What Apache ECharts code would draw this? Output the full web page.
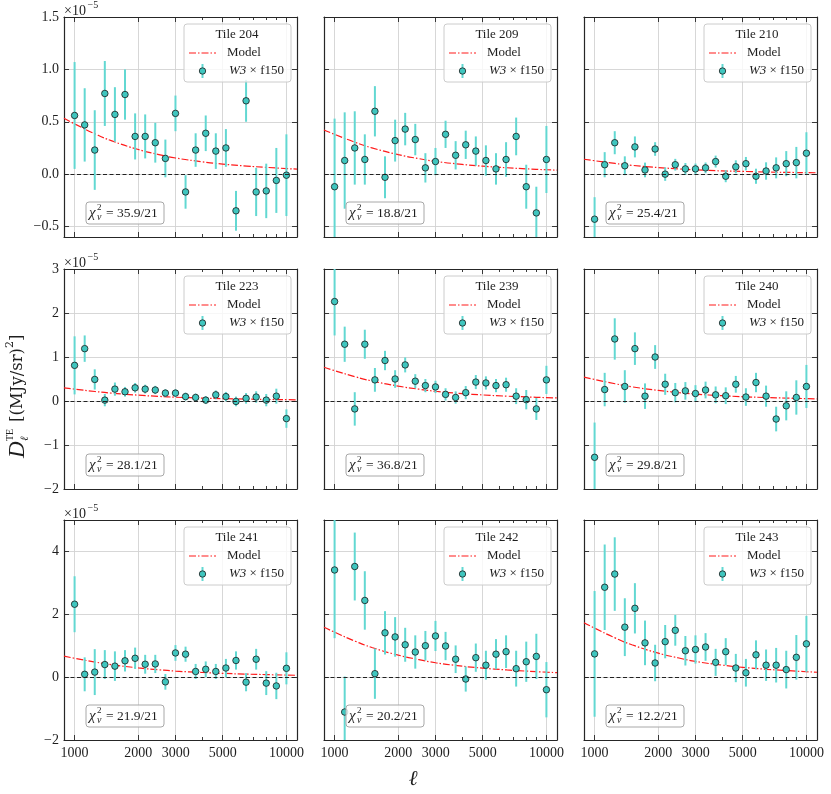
<!DOCTYPE html>
<html>
<head>
<meta charset="utf-8">
<script src="https://cdn.jsdelivr.net/npm/echarts@6/dist/echarts.min.js"></script>
<style>
  html, body { margin: 0; padding: 0; background: #fff; }
  #chart { width: 831px; height: 794px; }
</style>
</head>
<body>
<div id="chart"></div>
<script>
// multipole bin centres (log spaced between 1000 and 10000)
const ell = [1000, 1116, 1245, 1389, 1550, 1730, 1931, 2154, 2404, 2683, 2994,
             3341, 3728, 4160, 4642, 5180, 5780, 6450, 7197, 8032, 8963, 10000];
const modelEll = [891, 1000, 1250, 1500, 2000, 2500, 3000, 4000, 5000, 6500, 8000, 10000, 11220];

const tiles = ['204', '209', '210', '223', '239', '240', '241', '242', '243'];
const chi2 = ['35.9/21', '18.8/21', '25.4/21', '28.1/21', '36.8/21', '29.8/21', '21.9/21', '20.2/21', '12.2/21'];

// D_ell^TE, units of 1e-5 (MJy/sr)^2
const d204 = [0.56, 0.47, 0.23, 0.77, 0.57, 0.76, 0.36, 0.36, 0.30, 0.15, 0.58, -0.17, 0.23, 0.39, 0.22, 0.25, -0.35, 0.70, -0.17, -0.16, -0.06, -0.01];
const e204 = [0.51, 0.35, 0.38, 0.31, 0.26, 0.24, 0.22, 0.21, 0.19, 0.18, 0.17, 0.16, 0.16, 0.17, 0.17, 0.18, 0.19, 0.20, 0.23, 0.26, 0.31, 0.39];
const m204 = [0.533, 0.48, 0.384, 0.317, 0.235, 0.187, 0.154, 0.118, 0.096, 0.077, 0.065, 0.053, 0.048];

const d209 = [-0.12, 0.13, 0.25, 0.14, 0.60, -0.03, 0.32, 0.43, 0.33, 0.06, 0.12, 0.38, 0.18, 0.28, 0.22, 0.13, 0.05, 0.14, 0.36, -0.12, -0.37, 0.14];
const e209 = [0.65, 0.46, 0.35, 0.24, 0.24, 0.20, 0.20, 0.155, 0.15, 0.14, 0.13, 0.13, 0.135, 0.135, 0.14, 0.145, 0.15, 0.165, 0.18, 0.21, 0.25, 0.32];
const m209 = [0.422, 0.38, 0.304, 0.251, 0.186, 0.148, 0.122, 0.093, 0.076, 0.061, 0.051, 0.042, 0.038];

const d210 = [-0.43, 0.09, 0.30, 0.08, 0.26, 0.04, 0.24, 0.0, 0.09, 0.05, 0.05, 0.06, 0.12, -0.02, 0.07, 0.10, -0.02, 0.03, 0.06, 0.10, 0.11, 0.20];
const e210 = [0.21, 0.12, 0.11, 0.09, 0.10, 0.07, 0.065, 0.064, 0.056, 0.056, 0.051, 0.051, 0.057, 0.057, 0.062, 0.064, 0.072, 0.083, 0.10, 0.12, 0.15, 0.20];
const m210 = [0.142, 0.128, 0.102, 0.084, 0.063, 0.050, 0.041, 0.031, 0.026, 0.020, 0.017, 0.014, 0.013];

const d223 = [0.81, 1.19, 0.49, 0.02, 0.27, 0.21, 0.30, 0.27, 0.25, 0.18, 0.18, 0.10, 0.08, 0.02, 0.14, 0.10, -0.01, 0.06, 0.09, 0.02, 0.11, -0.40];
const e223 = [0.66, 0.30, 0.23, 0.14, 0.15, 0.11, 0.11, 0.10, 0.094, 0.087, 0.087, 0.09, 0.09, 0.09, 0.10, 0.106, 0.11, 0.12, 0.13, 0.14, 0.17, 0.21];
const m223 = [0.30, 0.27, 0.216, 0.178, 0.132, 0.105, 0.086, 0.066, 0.054, 0.043, 0.036, 0.030, 0.027];

const d239 = [2.26, 1.29, -0.18, 1.29, 0.48, 0.92, 0.50, 0.82, 0.45, 0.35, 0.32, 0.15, 0.08, 0.19, 0.43, 0.41, 0.35, 0.37, 0.11, 0.03, -0.18, 0.48];
const e239 = [0.77, 0.40, 0.38, 0.33, 0.27, 0.22, 0.20, 0.17, 0.16, 0.15, 0.14, 0.14, 0.14, 0.15, 0.16, 0.15, 0.15, 0.16, 0.18, 0.22, 0.25, 0.32];
const m239 = [0.766, 0.69, 0.552, 0.455, 0.338, 0.269, 0.221, 0.169, 0.138, 0.110, 0.093, 0.076, 0.069];

const d240 = [-1.28, 0.26, 1.41, 0.33, 1.19, 0.11, 1.00, 0.38, 0.19, 0.23, 0.17, 0.25, 0.14, 0.12, 0.38, 0.09, 0.42, 0.11, -0.41, -0.11, 0.08, 0.33];
const e240 = [0.79, 0.38, 0.47, 0.37, 0.37, 0.29, 0.27, 0.24, 0.22, 0.20, 0.19, 0.19, 0.19, 0.19, 0.19, 0.20, 0.22, 0.24, 0.28, 0.33, 0.39, 0.49];
const m240 = [0.544, 0.49, 0.392, 0.323, 0.240, 0.191, 0.157, 0.120, 0.098, 0.078, 0.066, 0.054, 0.049];

const d241 = [2.32, 0.09, 0.16, 0.40, 0.35, 0.52, 0.60, 0.41, 0.42, -0.15, 0.77, 0.73, 0.18, 0.25, 0.18, 0.29, 0.53, -0.16, 0.57, -0.19, -0.28, 0.28];
const e241 = [0.89, 0.54, 0.73, 0.46, 0.47, 0.34, 0.34, 0.30, 0.29, 0.25, 0.25, 0.24, 0.24, 0.25, 0.24, 0.29, 0.29, 0.29, 0.33, 0.38, 0.42, 0.51];
const m241 = [0.666, 0.60, 0.48, 0.396, 0.294, 0.234, 0.192, 0.147, 0.12, 0.096, 0.081, 0.066, 0.06];

const d242 = [3.41, -1.11, 3.52, 2.44, 0.11, 1.41, 1.28, 1.03, 0.80, 1.00, 1.31, 0.99, 0.57, -0.06, 0.62, 0.38, 0.73, 0.81, 0.27, 0.49, 0.66, -0.40];
const e242 = [2.17, 1.13, 1.08, 0.93, 0.80, 0.69, 0.63, 0.54, 0.53, 0.47, 0.48, 0.45, 0.44, 0.40, 0.45, 0.46, 0.48, 0.52, 0.57, 0.64, 0.72, 0.88];
const m242 = [1.587, 1.43, 1.144, 0.944, 0.70, 0.558, 0.458, 0.350, 0.286, 0.229, 0.193, 0.157, 0.143];

const d243 = [0.74, 2.86, 3.28, 1.59, 2.19, 1.09, 0.45, 1.13, 1.49, 0.84, 0.88, 0.96, 0.47, 0.81, 0.29, 0.14, 0.71, 0.38, 0.38, 0.24, 0.63, 1.06];
const e243 = [2.00, 1.36, 1.17, 0.92, 0.80, 0.71, 0.58, 0.53, 0.49, 0.47, 0.45, 0.44, 0.43, 0.43, 0.45, 0.44, 0.46, 0.50, 0.55, 0.60, 0.71, 0.89];
const m243 = [1.73, 1.56, 1.248, 1.03, 0.764, 0.608, 0.499, 0.382, 0.312, 0.25, 0.211, 0.172, 0.156];

const xTickLabels = [1000, 2000, 3000, 5000, 10000];
const xMinorTicks = [4000, 6000, 7000, 8000, 9000];
const yTicks = [[-0.5, 0, 0.5, 1, 1.5], [-2, -1, 0, 1, 2, 3], [-2, 0, 2, 4]];
const yLimits = [[-0.6, 1.5], [-2, 3], [-2, 5]];

const points = [d204, d209, d210, d223, d239, d240, d241, d242, d243];
const errors = [e204, e209, e210, e223, e239, e240, e241, e242, e243];
const models = [m204, m209, m210, m223, m239, m240, m241, m242, m243];

// layout
const FONT = 'Liberation Serif';
const gridLeft = [64, 324, 584];
const gridTop = [17, 269, 520];
const gridW = 233, gridH = 220;
const X_MIN = 2.95, X_MAX = 4.05;
const frame = '#262626';
const ink = '#1e1e1e';
const markerColor = '#3fc6bf';
const barColor = '#62d8d2';

const lg = v => Math.log10(v);
const minus = s => s.replace('-', '\u2212');

const grid = [], xAxis = [], yAxis = [], series = [], graphic = [];

for (let i = 0; i < 9; i++) {
  const row = Math.floor(i / 3), col = i % 3;
  const left = gridLeft[col], top = gridTop[row];
  grid.push({ left: left, top: top, width: gridW, height: gridH });

  const line = { show: true, onZero: false, lineStyle: { color: frame, width: 1.2 } };
  const noLine = { show: false, onZero: false };
  const tick = (vals, len) => ({ inside: true, length: len, customValues: vals, lineStyle: { color: frame, width: 0.9 } });
  const xBase = { type: 'value', gridIndex: i, min: X_MIN, max: X_MAX, splitLine: { show: false }, axisLabel: { show: false } };

  // bottom: major ticks, labels, grid
  xAxis.push(Object.assign({}, xBase, {
    position: 'bottom', axisLine: line, axisTick: tick(xTickLabels.map(lg), 5),
    axisLabel: {
      show: row === 2, customValues: xTickLabels.map(lg), margin: 6,
      formatter: v => String(Math.round(Math.pow(10, v))),
      color: ink, fontFamily: FONT, fontSize: 14
    },
    splitLine: { show: true, lineStyle: { color: '#d2d2d2', width: 0.9 } }
  }));
  xAxis.push(Object.assign({}, xBase, { position: 'bottom', axisLine: noLine, axisTick: tick(xMinorTicks.map(lg), 3) }));
  xAxis.push(Object.assign({}, xBase, { position: 'top', axisLine: line, axisTick: tick(xTickLabels.map(lg), 5) }));
  xAxis.push(Object.assign({}, xBase, { position: 'top', axisLine: noLine, axisTick: tick(xMinorTicks.map(lg), 3) }));

  const yBase = { type: 'value', gridIndex: i, min: yLimits[row][0], max: yLimits[row][1] };
  yAxis.push(Object.assign({}, yBase, {
    position: 'left', axisLine: line, axisTick: tick(yTicks[row], 5),
    axisLabel: {
      show: col === 0, customValues: yTicks[row], margin: 5,
      formatter: v => minus(row === 0 ? v.toFixed(1) : String(Math.round(v))),
      color: ink, fontFamily: FONT, fontSize: 14
    },
    splitLine: { show: true, lineStyle: { color: '#d2d2d2', width: 0.9 } }
  }));
  yAxis.push(Object.assign({}, yBase, {
    position: 'right', axisLine: line, axisTick: tick(yTicks[row], 5),
    axisLabel: { show: false }, splitLine: { show: false }
  }));

  const xi = i * 4, yi = i * 2;
  series.push({
    type: 'line', xAxisIndex: xi, yAxisIndex: yi, z: 2, silent: true,
    data: modelEll.map((l, k) => [lg(l), models[i][k]]),
    smooth: true, showSymbol: false,
    lineStyle: { color: '#ff1a1a', width: 1.2, type: [7, 2, 1.5, 2] },
    markLine: {
      silent: true, symbol: 'none', label: { show: false },
      lineStyle: { color: '#222', width: 1.1, type: [4, 2.5] },
      data: [{ yAxis: 0 }]
    }
  });
  series.push({
    type: 'custom', xAxisIndex: xi, yAxisIndex: yi, z: 3, clip: true, silent: true,
    data: ell.map((l, k) => [lg(l), points[i][k], errors[i][k]]),
    encode: { x: 0, y: 1 },
    renderItem: (params, api) => {
      const x = api.value(0), y = api.value(1), e = api.value(2);
      const p1 = api.coord([x, y - e]), p2 = api.coord([x, y + e]);
      return { type: 'line', shape: { x1: p1[0], y1: p1[1], x2: p2[0], y2: p2[1] },
               style: { stroke: barColor, lineWidth: 2 } };
    }
  });
  series.push({
    type: 'scatter', xAxisIndex: xi, yAxisIndex: yi, z: 4, silent: true,
    data: ell.map((l, k) => [lg(l), points[i][k]]),
    symbolSize: 6.5,
    itemStyle: { color: markerColor, borderColor: '#1a1a1a', borderWidth: 0.8, opacity: 1 }
  });

  // legend box
  const lx = left + gridW - 113, ly = top + 7;
  graphic.push({ type: 'rect', z: 10, shape: { x: lx, y: ly, width: 107, height: 58, r: 3 },
    style: { fill: 'rgba(255,255,255,0.8)', stroke: '#cccccc', lineWidth: 1 } });
  graphic.push({ type: 'text', z: 11, x: lx + 53, y: ly + 11,
    style: { text: 'Tile ' + tiles[i], fontSize: 13, fontFamily: FONT, fill: ink, align: 'center', verticalAlign: 'middle' } });
  graphic.push({ type: 'line', z: 11, shape: { x1: lx + 5, y1: ly + 29, x2: lx + 32, y2: ly + 29 },
    style: { stroke: '#ff1a1a', lineWidth: 1.2, lineDash: [7, 2, 1.5, 2] } });
  graphic.push({ type: 'text', z: 11, x: lx + 43, y: ly + 29,
    style: { text: 'Model', fontSize: 13, fontFamily: FONT, fill: ink, align: 'left', verticalAlign: 'middle' } });
  graphic.push({ type: 'line', z: 11, shape: { x1: lx + 18.5, y1: ly + 40, x2: lx + 18.5, y2: ly + 54 },
    style: { stroke: barColor, lineWidth: 2 } });
  graphic.push({ type: 'circle', z: 12, shape: { cx: lx + 18.5, cy: ly + 47, r: 3.2 },
    style: { fill: markerColor, stroke: '#1a1a1a', lineWidth: 0.8 } });
  graphic.push({ type: 'text', z: 11, x: lx + 45, y: ly + 47,
    style: { text: '{i|W3} \u00d7 f150', fontSize: 13, fontFamily: FONT, fill: ink, align: 'left', verticalAlign: 'middle',
             rich: { i: { fontStyle: 'italic', fontSize: 13, fontFamily: FONT, fill: ink } } } });

  // chi-square box
  const cx = left + 22, cy = top + gridH - 35;
  graphic.push({ type: 'rect', z: 10, shape: { x: cx, y: cy, width: 78, height: 22, r: 3 },
    style: { fill: 'rgba(255,255,255,0.8)', stroke: '#a8a8a8', lineWidth: 1 } });
  graphic.push({ type: 'text', z: 11, x: cx + 3, y: cy + 11.5,
    style: { text: '\u03c7', fontSize: 15, fontStyle: 'italic', fontFamily: FONT, fill: ink, verticalAlign: 'middle' } });
  graphic.push({ type: 'text', z: 11, x: cx + 11, y: cy + 5.5,
    style: { text: '2', fontSize: 9, fontFamily: FONT, fill: ink, verticalAlign: 'middle' } });
  graphic.push({ type: 'text', z: 11, x: cx + 11, y: cy + 15.5,
    style: { text: '\u03bd', fontSize: 10, fontStyle: 'italic', fontFamily: FONT, fill: ink, verticalAlign: 'middle' } });
  graphic.push({ type: 'text', z: 11, x: cx + 20, y: cy + 11.5,
    style: { text: '= ' + chi2[i], fontSize: 13.5, fontFamily: FONT, fill: ink, verticalAlign: 'middle' } });

  // offset text on the left column
  if (col === 0) {
    graphic.push({ type: 'text', z: 11, x: 64, y: top - 6,
      style: { text: '\u00d710', fontSize: 14, fontFamily: FONT, fill: ink, verticalAlign: 'middle' } });
    graphic.push({ type: 'text', z: 11, x: 87.5, y: top - 12,
      style: { text: '\u22125', fontSize: 10, fontFamily: FONT, fill: ink, verticalAlign: 'middle' } });
  }
}

// axis titles
graphic.push({
  type: 'group', x: 18, y: 388, rotation: Math.PI / 2,
  children: [
    { type: 'text', z: 11, x: -70, y: 0, style: { text: 'D', fontSize: 23, fontStyle: 'italic', fontFamily: FONT, fill: ink, verticalAlign: 'middle' } },
    { type: 'text', z: 11, x: -53, y: -8, style: { text: 'TE', fontSize: 10, fontFamily: FONT, fill: ink, verticalAlign: 'middle' } },
    { type: 'text', z: 11, x: -53, y: 7, style: { text: '\u2113', fontSize: 11, fontStyle: 'italic', fontFamily: FONT, fill: ink, verticalAlign: 'middle' } },
    { type: 'text', z: 11, x: -34, y: 0, style: {
        text: '[(MJy/sr){s|2}]', fontSize: 16.5, fontFamily: 'DejaVu Serif', fill: ink, verticalAlign: 'middle', lineHeight: 26,
        rich: { s: { fontSize: 11, fontFamily: 'DejaVu Serif', fill: ink, verticalAlign: 'top', lineHeight: 15 } } } }
  ]
});
graphic.push({ type: 'text', z: 11, x: 413, y: 779,
  style: { text: '\u2113', fontSize: 21, fontStyle: 'italic', fontFamily: FONT, fill: ink, align: 'center', verticalAlign: 'middle' } });

const chart = echarts.init(document.getElementById('chart'));
chart.setOption({
  animation: false,
  backgroundColor: '#ffffff',
  textStyle: { fontFamily: FONT },
  grid: grid, xAxis: xAxis, yAxis: yAxis, series: series, graphic: graphic
});
</script>
</body>
</html>
